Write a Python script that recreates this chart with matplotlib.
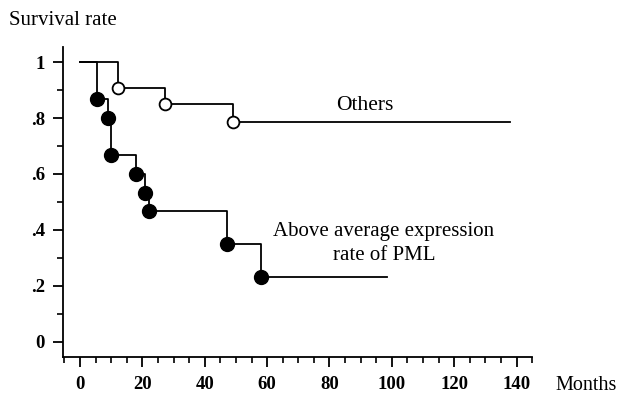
import matplotlib.pyplot as plt
from matplotlib.ticker import MultipleLocator, FixedFormatter, FixedLocator

# Kaplan-Meier style survival curves
others_t = [0, 12.3, 27.3, 49.0, 138]
others_s = [1.0, 0.906, 0.85, 0.785, 0.785]

pml_t = [0, 5.6, 9.0, 10.0, 18.0, 21.0, 22.0, 47.0, 58.0, 98.5]
pml_s = [1.0, 0.867, 0.80, 0.667, 0.60, 0.533, 0.467, 0.35, 0.233, 0.233]

xticks = [0, 20, 40, 60, 80, 100, 120, 140]
yticks = [0, 0.2, 0.4, 0.6, 0.8, 1.0]
ytick_labels = ['0', '.2', '.4', '.6', '.8', '1']

plt.rcParams['font.family'] = ['Liberation Serif', 'DejaVu Serif']

fig = plt.figure(figsize=(6.18, 3.95), dpi=100)
ax = fig.add_axes([0.102, 0.0962, 0.759, 0.785])

ax.step(others_t, others_s, where='post', color='black', lw=1.3, zorder=2)
ax.plot(others_t[1:-1], others_s[1:-1], 'o', ms=8.5, mfc='white', mec='black', mew=1.3, zorder=3)

ax.step(pml_t, pml_s, where='post', color='black', lw=1.3, zorder=2)
ax.plot(pml_t[1:-1], pml_s[1:-1], 'o', ms=10, color='black', zorder=3)

ax.set_xlim(-5.45, 145)
ax.set_ylim(-0.054, 1.054)

ax.spines['top'].set_visible(False)
ax.spines['right'].set_visible(False)
ax.spines['left'].set_linewidth(1.3)
ax.spines['bottom'].set_linewidth(1.3)

ax.xaxis.set_major_locator(FixedLocator(xticks))
ax.xaxis.set_minor_locator(MultipleLocator(5))
ax.yaxis.set_major_locator(FixedLocator(yticks))
ax.yaxis.set_major_formatter(FixedFormatter(ytick_labels))
ax.yaxis.set_minor_locator(MultipleLocator(0.1))
ax.tick_params(which='major', length=7, width=1.3, labelsize=13.5)
ax.tick_params(axis='y', which='major', pad=6)
ax.tick_params(axis='x', which='major', pad=7)
ax.tick_params(which='minor', length=4, width=1.2)
for lbl in ax.get_xticklabels() + ax.get_yticklabels():
    lbl.set_fontweight('bold')

fig.text(0.015, 0.949, 'Survival rate', fontsize=15, ha='left', va='center')
fig.text(0.898, 0.024, 'Months', fontsize=14.5, ha='left', va='center')
ax.text(91.5, 0.846, 'Others', fontsize=15.5, ha='center', va='center')
ax.text(97.5, 0.35, 'Above average expression\nrate of PML', fontsize=15,
        ha='center', va='center', linespacing=1.35)

fig.savefig('out.png', dpi=100)
